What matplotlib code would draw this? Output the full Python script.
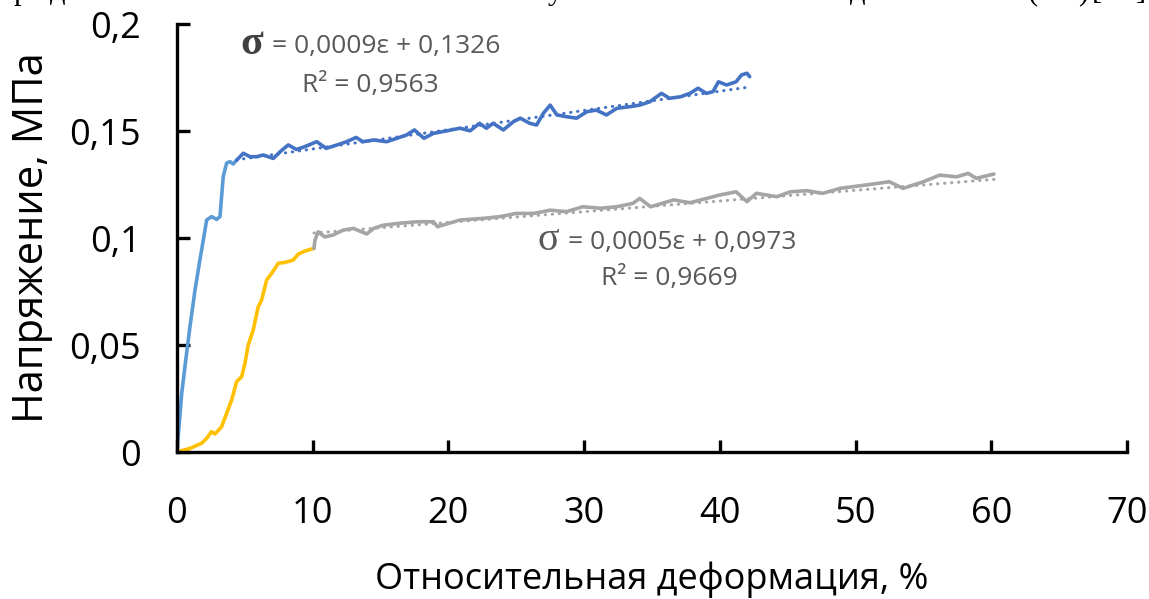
import numpy as np
import matplotlib
matplotlib.use('Agg')
import matplotlib.pyplot as plt
#
# Данные
#
blue_light_x = [0, 0.35, 0.59, 0.71, 0.96, 1.33, 1.69, 1.94, 2.19, 2.55, 2.92, 3.17,
                3.41, 3.66, 3.9, 4.15, 4.4]
blue_light_y = [0, 0.0274, 0.0399, 0.0461, 0.0586, 0.0757, 0.0897, 0.099, 0.1084,
                0.110, 0.1087, 0.110, 0.1287, 0.135, 0.1357, 0.1346, 0.1364]

blue_x = [4.4, 4.89, 5.38, 5.62, 5.87, 6.36, 7.1, 7.6, 8.2, 8.8, 9.3, 10.3, 11.0, 11.8,
          12.5, 13.2, 13.7, 14.5, 15.45, 16.2, 16.9, 17.5, 18.2, 18.9, 19.9, 20.85, 21.6,
          22.3, 22.8, 23.3, 24.05, 24.8, 25.3, 26.0, 26.5, 27.0, 27.5, 28.0, 28.7, 29.45,
          30.2, 30.9, 31.65, 32.4, 33.4, 34.1, 34.85, 35.7, 36.3, 37.1, 37.8, 38.4, 39.0,
          39.5, 39.9, 40.5, 41.2, 41.6, 42.0, 42.2]
blue_y = [0.1364, 0.1396, 0.138, 0.138, 0.138, 0.1388, 0.1372, 0.1403, 0.1435, 0.1414,
          0.1424, 0.145, 0.1419, 0.1435, 0.145, 0.147, 0.145, 0.1458, 0.145, 0.1466,
          0.1481, 0.1505, 0.1466, 0.1489, 0.1501, 0.1513, 0.1501, 0.1536, 0.1513, 0.1536,
          0.1505, 0.1544, 0.156, 0.1536, 0.1528, 0.1583, 0.1621, 0.1575, 0.1567, 0.156,
          0.159, 0.1598, 0.1575, 0.1606, 0.1614, 0.1621, 0.1637, 0.1676, 0.1653, 0.166,
          0.1676, 0.17, 0.1676, 0.1684, 0.173, 0.1715, 0.173, 0.1762, 0.177, 0.1754]

orange_x = [0, 0.96, 1.82, 2.19, 2.55, 2.8, 3.29, 3.66, 4.03, 4.4, 4.77, 5.01, 5.25,
            5.62, 5.99, 6.24, 6.61, 6.98, 7.47, 7.96, 8.57, 8.94, 9.43, 10.1]
orange_y = [0, 0.0017, 0.0041, 0.0064, 0.0095, 0.0084, 0.0118, 0.018, 0.0243, 0.0329,
            0.0352, 0.0414, 0.05, 0.057, 0.0679, 0.071, 0.0804, 0.0835, 0.0882, 0.0886,
            0.0897, 0.0925, 0.0939, 0.0952]

grey_x = [10.1, 10.17, 10.4, 10.9, 11.5, 12.25, 13.0, 13.98, 14.5, 15.2, 16.4, 17.7,
          18.9, 19.2, 20.85, 22.6, 23.8, 25.0, 26.3, 27.5, 28.7, 29.9, 31.2, 32.4, 33.6,
          34.1, 34.9, 36.6, 37.8, 40.0, 41.2, 42.0, 42.7, 44.2, 45.2, 46.4, 47.6, 48.85,
          50.8, 52.5, 53.5, 55.0, 56.2, 57.45, 58.3, 58.9, 60.2]
grey_y = [0.0952, 0.099, 0.1029, 0.1005, 0.1014, 0.1037, 0.1045, 0.1019, 0.1045, 0.106,
          0.1069, 0.1076, 0.1076, 0.1053, 0.1084, 0.1092, 0.11, 0.1115, 0.1115, 0.113,
          0.1123, 0.1146, 0.1139, 0.1146, 0.1162, 0.1185, 0.1146, 0.1178, 0.1165, 0.1201,
          0.1216, 0.117, 0.1209, 0.1193, 0.1216, 0.1221, 0.1209, 0.1232, 0.1248, 0.1263,
          0.1232, 0.1263, 0.1294, 0.1286, 0.1302, 0.1279, 0.1299]
#
# Линии тренда (коэффициенты из подписей)
#
trend_blue = (0.0009, 0.1326)
trend_grey = (0.0005, 0.0973)
r2_blue = '0,9563'
r2_grey = '0,9669'

x_ticks = [0, 10, 20, 30, 40, 50, 60, 70]
y_ticks = [0, 0.05, 0.1, 0.15, 0.2]
y_labels = ['0', '0,05', '0,1', '0,15', '0,2']

plt.rcParams['font.family'] = ['Open Sans', 'DejaVu Sans']

fig = plt.figure(figsize=(11.49, 5.99), dpi=100)
ax = fig.add_axes([0.154, 0.2454, 0.8268, 0.7145])

c_light = '#5B9BD5'
c_blue = '#4472C4'
c_orange = '#FFC000'
c_grey = '#A5A5A5'
lw = 2.6

ax.plot(blue_light_x, blue_light_y, color=c_light, lw=lw, solid_capstyle='round')
ax.plot(blue_x, blue_y, color=c_blue, lw=lw, solid_capstyle='round')
ax.plot(orange_x, orange_y, color=c_orange, lw=lw, solid_capstyle='round')
ax.plot(grey_x, grey_y, color=c_grey, lw=lw, solid_capstyle='round')
#
# Пунктирные линии тренда
#
tb = np.array([blue_x[0], blue_x[-1]])
ax.plot(tb, trend_blue[0] * tb + trend_blue[1], color=c_blue, lw=2.2,
        ls=(0, (0.1, 2.2)), dash_capstyle='round')
tg = np.array([grey_x[0], grey_x[-1]])
ax.plot(tg, trend_grey[0] * tg + trend_grey[1], color=c_grey, lw=2.2,
        ls=(0, (0.1, 2.2)), dash_capstyle='round')

ax.set_xlim(0, 70)
ax.set_ylim(0, 0.2)
ax.set_xticks(x_ticks)
ax.set_xticklabels([str(v) for v in x_ticks])
ax.set_yticks(y_ticks)
ax.set_yticklabels(y_labels)

for s in ['top', 'right']:
    ax.spines[s].set_visible(False)
for s in ['left', 'bottom']:
    ax.spines[s].set_linewidth(2.4)
    ax.spines[s].set_color('black')
ax.tick_params(axis='both', direction='in', length=9, width=2.4, labelsize=26,
               colors='black')
ax.tick_params(axis='x', pad=32)
ax.tick_params(axis='y', pad=26)

ax.set_xlabel('Относительная деформация, %', fontsize=26, labelpad=21)
ax.set_ylabel('Напряжение, МПа', fontsize=30, labelpad=12)
#
# Подписи уравнений
#
txt_col = '#595959'
ax.text(4.7, 0.1905, 'σ', fontsize=30, fontweight='bold', color='#404040',
        family='Liberation Serif', va='center', ha='left')
ax.text(7.0, 0.1897, '= 0,0009ε + 0,1326', fontsize=19, color=txt_col,
        va='center', ha='left')
ax.text(9.2, 0.1715, 'R² = ' + r2_blue, fontsize=19, color=txt_col,
        va='center', ha='left')
ax.text(26.6, 0.0990, 'σ', fontsize=29, color=txt_col,
        family='Liberation Serif', va='center', ha='left')
ax.text(28.8, 0.0981, '= 0,0005ε + 0,0973', fontsize=19, color=txt_col,
        va='center', ha='left')
ax.text(31.24, 0.0813, 'R² = ' + r2_grey, fontsize=19, color=txt_col,
        va='center', ha='left')
#
# Обрезанная строка текста документа сверху
#
for xp, ch in [(14, 'р'), (50, 'д'), (548, 'у'), (850, 'д'),
               (1028, '('), (1078, ')'), (1092, '['), (1136, ']')]:
    fig.text(xp / 1149, 1.0 + 1 / 599, ch, fontsize=22, family='Liberation Serif',
             va='baseline', ha='left', color='black')

fig.savefig('out.png', dpi=100)
